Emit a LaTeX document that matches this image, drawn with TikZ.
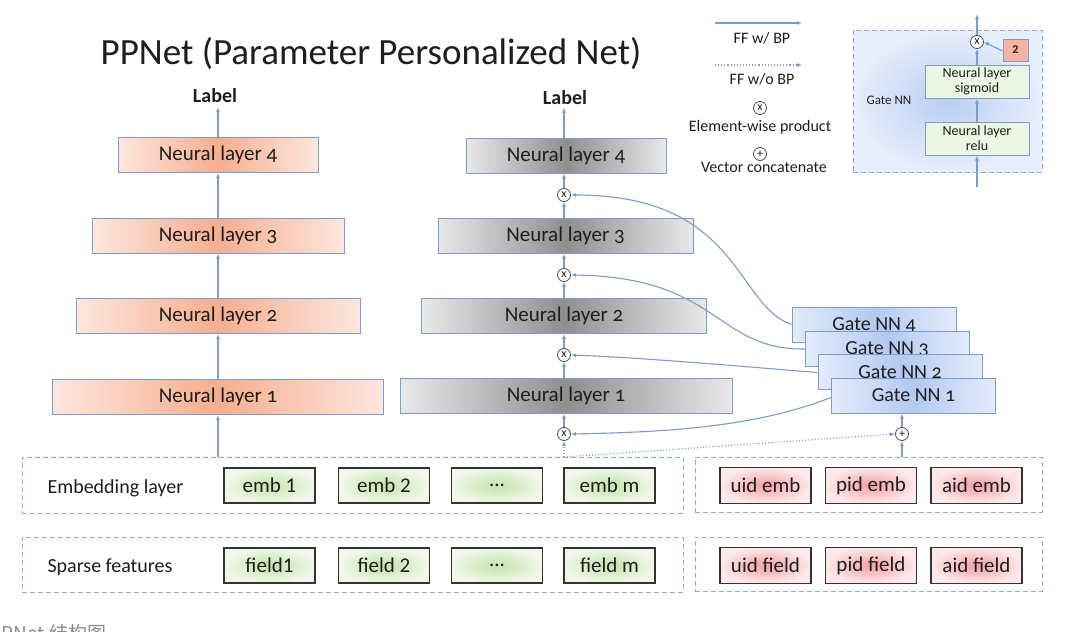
\documentclass[tikz,border=0pt]{standalone}
\usepackage{fontspec}
\setmainfont{Carlito}
\newfontfamily\onumfont[Numbers=OldStyle]{Carlito}
\newfontfamily\cjk{Noto Sans CJK SC}
\usetikzlibrary{arrows.meta,shadings}
\definecolor{lineblue}{HTML}{7C9CCB}
\definecolor{orA}{HTML}{FDE7DF}
\definecolor{orB}{HTML}{F6AE8F}
\definecolor{grA}{HTML}{E9E9E9}
\definecolor{grB}{HTML}{8F8F8F}
\definecolor{gnA}{HTML}{E3ECFB}
\definecolor{gnB}{HTML}{B3C9F1}
\definecolor{emA}{HTML}{F0F8E9}
\definecolor{emB}{HTML}{C3E3AB}
\definecolor{rdA}{HTML}{FDE9EA}
\definecolor{rdB}{HTML}{F3A0A4}
\definecolor{insA}{HTML}{E7EEFB}
\definecolor{insB}{HTML}{B9CEF3}
\definecolor{txt}{HTML}{1E1E1E}
\definecolor{salmon}{HTML}{F4B3A3}
\tikzset{
  x=1pt, y=-1pt,
  every node/.style={text=txt},
  layerbox/.style={draw=lineblue, line width=1pt, inner sep=0pt, minimum height=35pt,
    font=\onumfont\fontsize{21}{23}\selectfont},
  orbox/.style={layerbox, left color=orA, right color=orA, middle color=orB},
  grbox/.style={layerbox, left color=grA, right color=grA, middle color=grB},
  gatebox/.style={layerbox, minimum width=164pt, left color=gnA, right color=gnA, middle color=gnB,
    font=\onumfont\fontsize{20}{22}\selectfont},
  embbox/.style={draw=black!80, line width=1.1pt, inner sep=0pt, minimum width=91pt, minimum height=35pt,
    shading=radial, inner color=emB, outer color=emA, font=\fontsize{21}{23}\selectfont},
  redbox/.style={draw=black!80, line width=1.1pt, inner sep=0pt, minimum width=91pt, minimum height=36pt,
    shading=radial, inner color=rdB, outer color=rdA, font=\fontsize{21}{23}\selectfont},
  dashbox/.style={draw=lineblue!85, dashed, dash pattern=on 5pt off 3pt, line width=0.9pt, inner sep=0pt},
  opnode/.style={circle, draw=black!70, line width=0.8pt, fill=white, minimum size=13pt, inner sep=0pt,
    font=\fontsize{12}{12}\selectfont},
  arr/.style={draw=lineblue, line width=1.1pt, -{Latex[length=5pt,width=4pt]}},
  dotarr/.style={draw=lineblue, line width=1.1pt, dotted, -{Latex[length=5pt,width=4pt]}},
  smallgreen/.style={draw=lineblue, line width=1pt, fill=emA!60!emB!60, inner sep=0pt, minimum width=104pt,
    minimum height=33pt, align=center, font=\fontsize{14}{15}\selectfont},
  labeltext/.style={font=\bfseries\fontsize{20}{22}\selectfont},
  legtext/.style={font=\fontsize{16}{18}\selectfont},
}
\begin{document}
\begin{tikzpicture}
\useasboundingbox[fill=white] (0,0) rectangle (1080,632);

% title
\node[font=\fontsize{37}{42}\selectfont] (title) at (371,54) {PPNet (Parameter Personalized Net)};

% ---- left column ----
\node[orbox, minimum width=200pt] (L4) at (218,155) {Neural layer 4};
\node[orbox, minimum width=252pt] (L3) at (218,235.5) {Neural layer 3};
\node[orbox, minimum width=284pt] (L2) at (218,316) {Neural layer 2};
\node[orbox, minimum width=331pt] (L1) at (218,397) {Neural layer 1};
\node[labeltext] (lab1) at (215,96) {Label};
\draw[arr] (L1.north) -- (L2.south);
\draw[arr] (L2.north) -- (L3.south);
\draw[arr] (L3.north) -- (L4.south);
\draw[arr] (L4.north) -- ++(0,-30);

% ---- bottom rows ----
\node[dashbox, minimum width=661pt, minimum height=56pt] (embL) at (352.5,485) {};
\node[dashbox, minimum width=661pt, minimum height=55pt] (spL) at (352.5,564.5) {};
\node[dashbox, minimum width=347pt, minimum height=55pt] (embR) at (868.5,484.5) {};
\node[dashbox, minimum width=347pt, minimum height=54pt] (spR) at (868.5,564) {};
\node[anchor=west, font=\fontsize{20}{22}\selectfont] (embtxt) at (44,488) {Embedding layer};
\node[anchor=west, font=\fontsize{20}{22}\selectfont] (sptxt) at (44,567) {Sparse features};

\node[embbox] (e1) at (269.5,485.5) {emb 1};
\node[embbox] (e2) at (384,485.5) {emb 2};
\node[embbox] (e3) at (497,485.5) {...};
\node[embbox] (em) at (609.5,485.5) {emb m};
\node[embbox] (f1) at (269.5,565.5) {field1};
\node[embbox] (f2) at (384,565.5) {field 2};
\node[embbox] (f3) at (497,565.5) {...};
\node[embbox] (fm) at (609.5,565.5) {field m};

\node[redbox] (ue) at (765.5,485.5) {uid emb};
\node[redbox] (pe) at (871,485.5) {pid emb};
\node[redbox] (ae) at (976.5,485.5) {aid emb};
\node[redbox] (uf) at (765.5,565.5) {uid field};
\node[redbox] (pf) at (871,565.5) {pid field};
\node[redbox] (af) at (976.5,565.5) {aid field};

\draw[arr] (L1.south |- embL.north) -- (L1.south);

% ---- middle column ----
\node[grbox, minimum width=200pt] (M4) at (566,155.5) {Neural layer 4};
\node[grbox, minimum width=255pt] (M3) at (565.5,235.5) {Neural layer 3};
\node[grbox, minimum width=285pt] (M2) at (564,316) {Neural layer 2};
\node[grbox, minimum width=332pt] (M1) at (566,395.5) {Neural layer 1};
\node[labeltext] (lab2) at (565,98) {Label};
\node[opnode] (x4) at (564,195) {x};
\node[opnode] (x3) at (564,275) {x};
\node[opnode] (x2) at (564,355) {x};
\node[opnode] (x1) at (564,434) {x};
\coordinate (etop) at (564,457);
\draw[dotarr] (etop) -- (x1.south);
\draw[arr] (x1.north) -- (x1.north |- M1.south);
\draw[arr] (x1.north |- M1.north) -- (x2.south);
\draw[arr] (x2.north) -- (x2.north |- M2.south);
\draw[arr] (x2.north |- M2.north) -- (x3.south);
\draw[arr] (x3.north) -- (x3.north |- M3.south);
\draw[arr] (x3.north |- M3.north) -- (x4.south);
\draw[arr] (x4.north) -- (x4.north |- M4.south);
\draw[arr] (x4.north |- M4.north) -- ++(0,-30);

% ---- gate NNs ----
\node[gatebox] (G4) at (874,324.5) {\raisebox{-3pt}{Gate NN 4}};
\node[gatebox] (G3) at (887,349) {\raisebox{-3pt}{Gate NN 3}};
\node[gatebox] (G2) at (900,372) {\raisebox{-3pt}{Gate NN 2}};
\node[gatebox] (G1) at (913.5,395.5) {Gate NN 1};
\node[opnode] (plus) at (902,434) {+};
\draw[arr] (plus.south |- embR.north) -- (plus.south);
\draw[arr] (plus.north) -- (plus.north |- G1.south);
\draw[dotarr] (etop) -- (plus.west);

\draw[arr] (G4.west) .. controls (735,305) and (740,195) .. (x4.east);
\draw[arr] (G3.west) .. controls (715,350) and (720,277) .. (x3.east);
\draw[arr] ([yshift=-0.5pt]G2.west) .. controls (760,368) and (650,358) .. (x2.east);
\draw[arr] ([yshift=-2pt]G1.west) .. controls (760,425) and (680,432) .. (x1.east);

% ---- legend ----
\coordinate (la1) at (715,23); \coordinate (lb1) at (802,23);
\coordinate (la2) at (715,65); \coordinate (lb2) at (802,65);
\draw[arr] (la1) -- (lb1);
\draw[dotarr] (la2) -- (lb2);
\node[legtext] (t1) at (762,38) {FF w/ BP};
\node[legtext] (t2) at (762,79) {FF w/o BP};
\node[opnode, minimum size=13pt] (lx) at (760,108) {x};
\node[legtext] (t3) at (760,127) {Element-wise product};
\node[opnode, minimum size=13pt] (lp) at (760,154) {+};
\node[legtext] (t4) at (764,167) {Vector concatenate};

% ---- inset ----
\node[dashbox, minimum width=189pt, minimum height=142pt, shading=radial, inner color=insB, outer color=insA] (inset) at (947.5,101) {};
\node[font=\fontsize{13}{15}\selectfont] (gtxt) at (889,100) {Gate NN};
\node[smallgreen] (relu) at (977,138.5) {Neural layer\\relu};
\node[smallgreen] (sig) at (977,81.5) {Neural layer\\sigmoid};
\node[opnode, minimum size=13pt] (ix) at (977,42) {x};
\node[draw=lineblue, line width=1pt, fill=salmon, minimum width=25pt, minimum height=22pt, inner sep=0pt,
  font=\bfseries\fontsize{12}{13}\selectfont] (two) at (1015.5,50) {2};
\coordinate (ibot) at (977,187);
\coordinate (itop) at (977,14);
\draw[arr] (ibot) -- (relu.south);
\draw[arr] (relu.north) -- (sig.south);
\draw[arr] (sig.north) -- (ix.south);
\draw[arr] (ix.north) -- (itop);
\draw[arr] ([yshift=-1pt]two.west) -- (ix.east);

% ---- caption (cut off at the lower edge, as in the reference) ----
\node[anchor=west, text=black!45, font=\cjk\fontsize{19}{20}\selectfont] (cap) at (-14,633) {PPNet 结构图};
\end{tikzpicture}
\end{document}
